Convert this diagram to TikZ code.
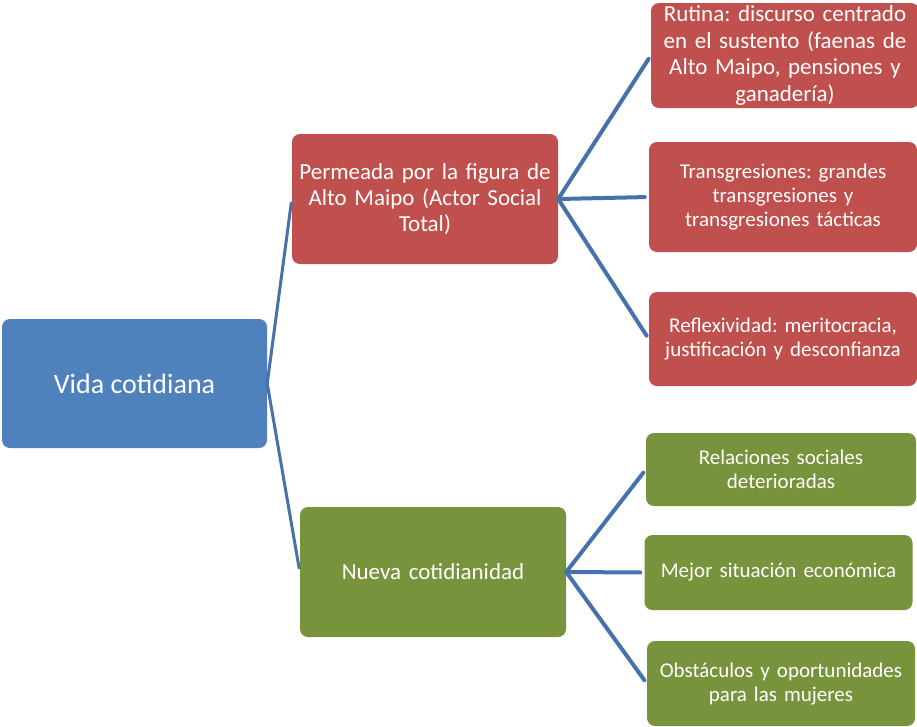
\documentclass[tikz,border=0pt]{standalone}
\usepackage{fontspec}
\setmainfont{Carlito}
\frenchspacing
\definecolor{azul}{HTML}{4F81BD}
\definecolor{rojo}{HTML}{C0504D}
\definecolor{verde}{HTML}{77933C}
\definecolor{linea}{HTML}{4672AB}
\begin{document}
\begin{tikzpicture}[x=1pt,y=-1pt,line join=round,line cap=round,
	caja/.style={rounded corners=8pt,text=white,align=center,inner sep=2pt},
	raiz/.style={caja,fill=azul,minimum width=265pt,minimum height=129pt,font=\fontsize{28}{32}\selectfont},
	rama/.style={caja,minimum width=266pt,minimum height=130pt,text width=262pt,font=\fontsize{23}{26}\selectfont},
	hoja/.style={caja,minimum width=266pt,text width=264pt,font=\fontsize{21}{24}\selectfont},
	con/.style={draw=linea,line width=4pt,shorten >=4pt}]
	\useasboundingbox (0,0) rectangle (917,726);
	% raiz
	\node[raiz] (V) at (134.5,383.5) {Vida cotidiana};
	% ramas
	\node[rama,fill=rojo] (P) at (425,199) {Permeada por la figura de\\Alto Maipo (Actor Social\\Total)};
	\node[rama,fill=verde] (N) at (433,572) {Nueva cotidianidad};
	% hojas
	\node[hoja,fill=rojo,minimum width=264pt,minimum height=105pt,font=\fontsize{23}{26.7}\selectfont] (R1) at (785,55.5) {Rutina: discurso centrado\\en el sustento (faenas de\\Alto Maipo, pensiones y\\ganadería)};
	\node[hoja,fill=rojo,minimum height=110pt] (R2) at (783,197) {Transgresiones: grandes\\transgresiones y\\transgresiones tácticas};
	\node[hoja,fill=rojo,minimum height=94pt] (R3) at (783,339) {Reflexividad: meritocracia,\\justificación y desconfianza};
	\node[hoja,fill=verde,minimum width=270pt,minimum height=73pt] (N1) at (781,469.5) {Relaciones sociales\\deterioradas};
	\node[hoja,fill=verde,minimum width=265pt,minimum height=75pt] (N2) at (778.5,572.5) {Mejor situación económica};
	\node[hoja,fill=verde,minimum height=85pt] (N3) at (781,683.5) {Obstáculos y oportunidades\\para las mujeres};
	% conectores
	\foreach \h in {P,N} \draw[con,line width=3pt] (V.east) -- (\h.west);
	\foreach \h in {R1,R2,R3} \draw[con] (P.east) -- (\h.west);
	\foreach \h in {N1,N2,N3} \draw[con] (N.east) -- (\h.west);
\end{tikzpicture}
\end{document}
